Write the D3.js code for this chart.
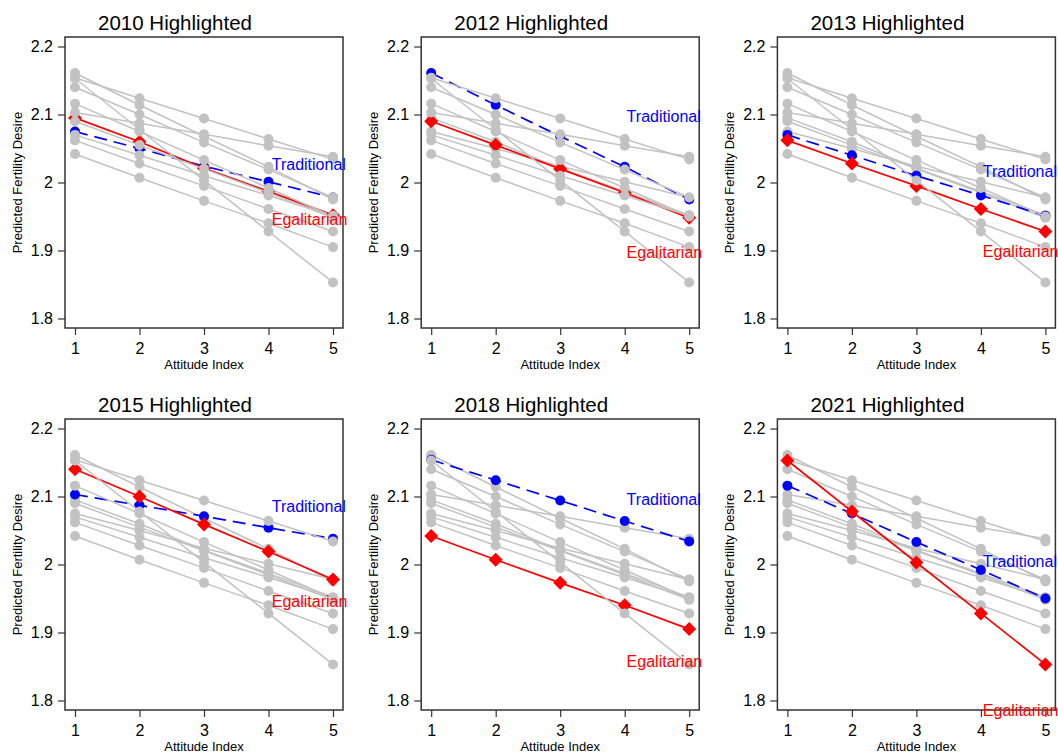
<!DOCTYPE html>
<html>
<head>
<meta charset="utf-8">
<script src="https://cdn.jsdelivr.net/npm/d3@7.9.0/dist/d3.min.js"></script>
<style>
  body { margin: 0; background: #fff; }
  svg { display: block; font-family: "Liberation Sans", Arial, Helvetica, sans-serif; }
</style>
</head>
<body>
<div id="chart"></div>
<script>
// Survey years, one panel per year
const years = [2010, 2012, 2013, 2015, 2018, 2021];
const attitude = [1, 2, 3, 4, 5];

// Predicted fertility desire by attitude index
const traditional = [
  [2.075, 2.050, 2.024, 2.001, 1.978],
  [2.161, 2.114, 2.068, 2.023, 1.975],
  [2.070, 2.040, 2.010, 1.981, 1.951],
  [2.103, 2.087, 2.071, 2.054, 2.038],
  [2.154, 2.124, 2.094, 2.064, 2.034],
  [2.116, 2.075, 2.033, 1.992, 1.950]
];
const egalitarian = [
  [2.095, 2.060, 2.021, 1.987, 1.952],
  [2.090, 2.055, 2.020, 1.985, 1.948],
  [2.062, 2.028, 1.995, 1.961, 1.928],
  [2.140, 2.100, 2.059, 2.019, 1.978],
  [2.042, 2.007, 1.973, 1.940, 1.905],
  [2.153, 2.078, 2.003, 1.928, 1.853]
];

// where the two series names sit in each panel (data units)
const labelX = [4.05, 4.03, 4.03, 4.05, 4.03, 4.03];
const tradLabelY = [2.027, 2.097, 2.017, 2.086, 2.096, 2.005];
const egalLabelY = [1.946, 1.897, 1.898, 1.945, 1.857, 1.785];

const yTicks = [1.8, 1.9, 2, 2.1, 2.2];

const width = 1058, height = 754;
const box = { left: 65, top: 37, w: 278, h: 291 };
const colStep = 356.2, rowStep = 382;

const gray = '#c2c2c2';
const blue = '#0000ff';
const red = '#ff0000';

const svg = d3.select('#chart').append('svg')
  .attr('width', width)
  .attr('height', height);

const x = d3.scaleLinear().domain([0.845, 5.155]).range([0, box.w]);
const y = d3.scaleLinear().domain([1.786, 2.214]).range([box.h, 0]);

const line = d3.line()
  .x((d, i) => x(attitude[i]))
  .y(d => y(d));

const diamond = d3.symbol().type(d3.symbolSquare).size(98);

// all series in plotting order: each year's traditional, then egalitarian
const series = [];
years.forEach((yr, i) => {
  series.push({ year: yr, kind: 'trad', values: traditional[i] });
  series.push({ year: yr, kind: 'egal', values: egalitarian[i] });
});

years.forEach((hl, p) => {
  const col = p % 3, row = Math.floor(p / 3);
  const panel = svg.append('g')
    .attr('transform', `translate(${col * colStep},${row * rowStep})`);

  // title
  panel.append('text')
    .attr('x', 175)
    .attr('y', 30)
    .attr('text-anchor', 'middle')
    .attr('font-size', 20.5)
    .text(`${hl} Highlighted`);

  const g = panel.append('g')
    .attr('transform', `translate(${box.left},${box.top})`);

  // axes
  const yAxis = g.append('g')
    .call(d3.axisLeft(y).tickValues(yTicks).tickSize(7).tickPadding(5)
      .tickFormat(d => String(d)));
  const xAxis = g.append('g')
    .attr('transform', `translate(0,${box.h})`)
    .call(d3.axisBottom(x).tickValues(attitude).tickSize(7).tickPadding(7.5)
      .tickFormat(d3.format('d')));
  [yAxis, xAxis].forEach(a => {
    a.select('.domain').remove();
    a.selectAll('line').attr('stroke', '#333').attr('stroke-width', 1.2);
    a.selectAll('text').attr('font-size', 16).attr('fill', '#000')
      .attr('font-family', '"Liberation Sans", Arial, sans-serif');
  });

  g.append('text')
    .attr('x', box.w / 2)
    .attr('y', box.h + 40.5)
    .attr('text-anchor', 'middle')
    .attr('font-size', 13)
    .text('Attitude Index');

  g.append('text')
    .attr('transform', `translate(${22 - box.left},${box.h / 2}) rotate(-90)`)
    .attr('text-anchor', 'middle')
    .attr('font-size', 13)
    .text('Predicted Fertility Desire');

  // lines and markers
  series.forEach(s => {
    const on = s.year === hl;
    const color = on ? (s.kind === 'trad' ? blue : red) : gray;
    g.append('path')
      .attr('d', line(s.values))
      .attr('fill', 'none')
      .attr('stroke', color)
      .attr('stroke-width', on ? 1.7 : 1.5)
      .attr('stroke-dasharray', on && s.kind === 'trad' ? '13,7' : null);

    if (on && s.kind === 'egal') {
      g.selectAll(null)
        .data(s.values)
        .enter()
        .append('path')
        .attr('d', diamond)
        .attr('transform', (d, i) => `translate(${x(attitude[i])},${y(d)}) rotate(45)`)
        .attr('fill', color);
    } else {
      g.selectAll(null)
        .data(s.values)
        .enter()
        .append('circle')
        .attr('cx', (d, i) => x(attitude[i]))
        .attr('cy', d => y(d))
        .attr('r', 5)
        .attr('fill', color);
    }
  });

  // plot region border
  g.append('rect')
    .attr('width', box.w)
    .attr('height', box.h)
    .attr('fill', 'none')
    .attr('stroke', '#333')
    .attr('stroke-width', 1.5);

  // series names
  g.append('text')
    .attr('x', x(labelX[p]))
    .attr('y', y(tradLabelY[p]))
    .attr('dy', '0.35em')
    .attr('font-size', 16)
    .attr('fill', blue)
    .text('Traditional');
  g.append('text')
    .attr('x', x(labelX[p]))
    .attr('y', y(egalLabelY[p]))
    .attr('dy', '0.35em')
    .attr('font-size', 16)
    .attr('fill', red)
    .text('Egalitarian');
});
</script>
</body>
</html>
